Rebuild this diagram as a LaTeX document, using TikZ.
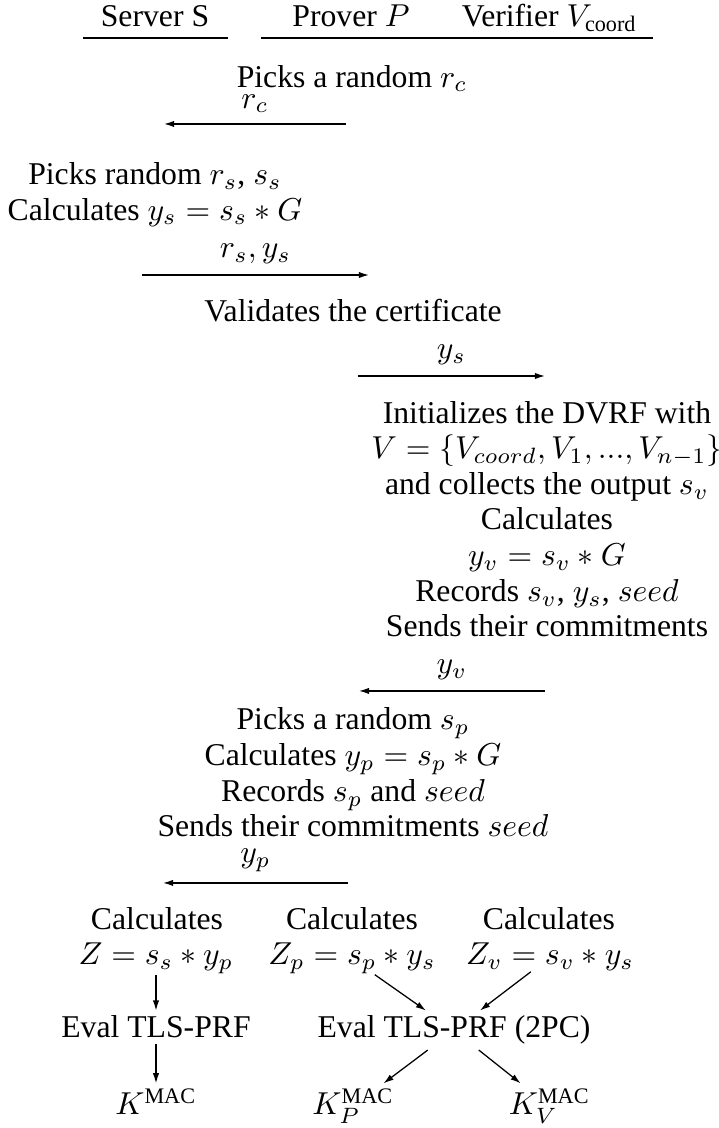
\documentclass[tikz,border=0pt]{standalone}
\usepackage{amsmath}
\usepackage{fontspec}
\setmainfont{Liberation Serif}
\usetikzlibrary{arrows.meta}

\begin{document}
\begin{tikzpicture}[
    >={Latex[length=3.2pt,width=2pt]},
    txt/.style={anchor=base, inner sep=0pt, align=center, font=\fontsize{10pt}{11.25pt}\selectfont},
    cell/.style={anchor=base, inner sep=1.5pt},
    zcell/.style={anchor=base, inner sep=0pt},
    msg/.style={->},
    rule/.style={line width=0.4pt},
]
\useasboundingbox (0,0) rectangle (7.963,-12.510);

% === Parties ===
\node[txt] (srv) at (1.719,-0.294) {Server S};
\node[txt] (prv) at (3.893,-0.294) {Prover $P$};
\node[txt] (vrf) at (6.094,-0.294) {Verifier $V_{\text{coord}}$};
\draw[rule] (0.920,-0.421) -- (2.529,-0.421);
\draw[rule] (2.894,-0.421) -- (7.242,-0.421);

% === Handshake messages ===
% (multi-line nodes sit on the baseline of their last line)
\node[txt] (pick) at (3.904,-0.965) {Picks a random $r_c$};
\coordinate (rcP) at (3.837,-1.375);
\coordinate (rcS) at (1.819,-1.375);
\draw[msg] (rcP) -- node[above] {$r_c$} (rcS);

\node[txt] (srvpick) at (1.719,-2.440) {Picks random $r_s$, $s_s$\\Calculates $y_s = s_s * G$};
\coordinate (rsS) at (1.575,-3.050);
\coordinate (rsP) at (4.092,-3.050);
\draw[msg] (rsS) -- node[above] {$r_s, y_s$} (rsP);

\node[txt] (cert) at (3.915,-3.571) {Validates the certificate};
\coordinate (ysP) at (3.970,-4.170);
\coordinate (ysV) at (6.044,-4.170);
\draw[msg] (ysP) -- node[above] {$y_s$} (ysV);

% === DVRF on the verifier side ===
\node[txt] (dvrf) at (6.066,-7.064) {Initializes the DVRF with\\$V = \{V_{coord}, V_1, ..., V_{n-1}\}$\\and collects the output $s_v$\\Calculates\\$y_v = s_v * G$\\Records $s_v$, $y_s$, $seed$\\Sends their commitments};
\coordinate (yvV) at (6.044,-7.663);
\coordinate (yvP) at (3.981,-7.663);
\draw[msg] (yvV) -- node[above] {$y_v$} (yvP);

\node[txt] (prvpick) at (3.915,-9.282) {Picks a random $s_p$\\Calculates $y_p = s_p * G$\\Records $s_p$ and $seed$\\Sends their commitments $seed$};
\coordinate (ypP) at (3.859,-9.792);
\coordinate (ypS) at (1.808,-9.792);
\draw[msg] (ypP) -- node[above] {$y_p$} (ypS);

% === Key derivation ===
\node[txt] (calcS) at (1.741,-10.303) {Calculates};
\node[txt] (calcP) at (3.904,-10.303) {Calculates};
\node[txt] (calcV) at (6.088,-10.303) {Calculates};

\node[zcell] (zS) at (1.730,-10.702) {$Z = s_s * y_p$};
\node[zcell] (zP) at (3.904,-10.702) {$Z_p = s_p * y_s$};
\node[zcell] (zV) at (6.099,-10.702) {$Z_v = s_v * y_s$};

\node[cell] (prfS) at (1.730,-11.511) {Eval TLS-PRF};
\node[cell] (prfPV) at (5.035,-11.511) {Eval TLS-PRF (2PC)};

\node[cell] (kS) at (1.730,-12.365) {$K^{\text{MAC}}$};
\node[cell] (kP) at (3.915,-12.365) {$K_P^{\text{MAC}}$};
\node[cell] (kV) at (6.094,-12.365) {$K_V^{\text{MAC}}$};

\draw[->] (zS) -- (prfS);
\draw[->] (prfS) -- (kS);
\draw[->] (zP) -- (prfPV);
\draw[->] (zV) -- (prfPV);
\draw[->] (prfPV) -- (kP);
\draw[->] (prfPV) -- (kV);

\end{tikzpicture}
\end{document}
